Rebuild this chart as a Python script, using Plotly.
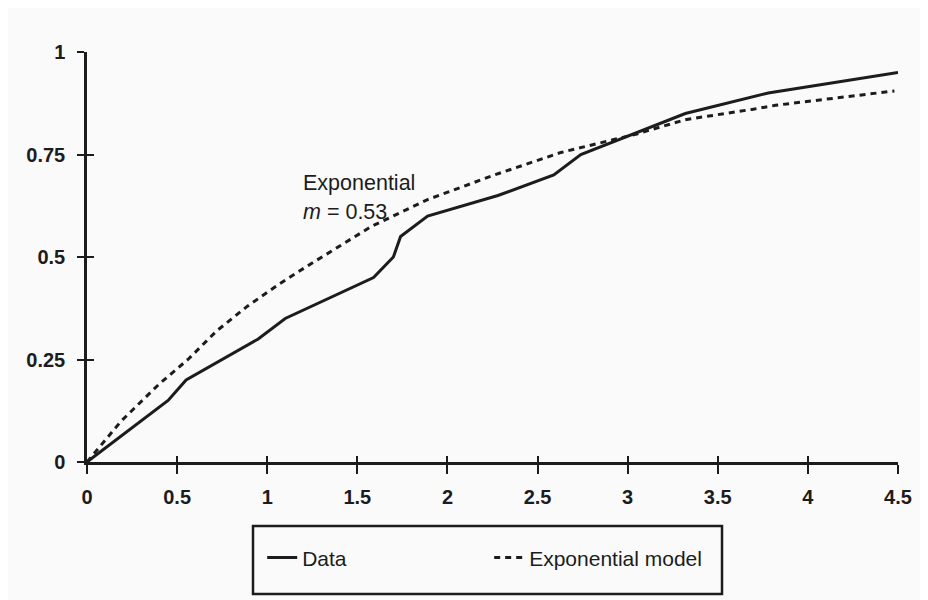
import plotly.graph_objects as go

# Observed data (solid line)
data_x = [0.0, 0.45, 0.55, 0.95, 1.10, 1.59, 1.70, 1.74, 1.89, 2.28, 2.59, 2.74, 3.32, 3.78, 4.50]
data_y = [0.0, 0.15, 0.20, 0.30, 0.35, 0.45, 0.50, 0.55, 0.60, 0.65, 0.70, 0.75, 0.85, 0.90, 0.95]

# Exponential model (dashed line)
model_x = [0.0, 0.19, 0.40, 0.56, 0.72, 0.89, 1.07, 1.23, 1.58, 1.89, 2.26, 2.63, 3.05, 3.32, 3.69, 3.82, 4.48]
model_y = [0.0, 0.10, 0.19, 0.25, 0.32, 0.38, 0.435, 0.48, 0.575, 0.64, 0.70, 0.755, 0.80, 0.835, 0.86, 0.87, 0.905]

x_tickvals = [0, 0.5, 1, 1.5, 2, 2.5, 3, 3.5, 4, 4.5]
x_ticktext = ["0", "0.5", "1", "1.5", "2", "2.5", "3", "3.5", "4", "4.5"]
y_tickvals = [0, 0.25, 0.5, 0.75, 1]
y_ticktext = ["0", "0.25", "0.5", "0.75", "1"]

INK = "#1c1c1c"
FONT = "Liberation Sans, Arial, sans-serif"

fig = go.Figure()
fig.add_trace(go.Scatter(x=data_x, y=data_y, mode="lines", name="Data",
                         line=dict(color=INK, width=3), cliponaxis=False))
fig.add_trace(go.Scatter(x=model_x, y=model_y, mode="lines", name="Exponential model",
                         line=dict(color=INK, width=3, dash="6px,5px"), cliponaxis=False))
# invisible helper trace so the overlay axes (inner tick halves) are drawn
fig.add_trace(go.Scatter(x=data_x, y=data_y, mode="lines", xaxis="x2", yaxis="y2",
                         line=dict(width=0), opacity=0, showlegend=False, hoverinfo="skip"))

fig.add_annotation(x=1.19, y=0.68, xref="x", yref="y", text="Exponential", showarrow=False,
                   xanchor="left", yanchor="middle", font=dict(family=FONT, size=21.5, color=INK))
fig.add_annotation(x=1.19, y=0.61, xref="x", yref="y", text="<i>m</i> = 0.53", showarrow=False,
                   xanchor="left", yanchor="middle", font=dict(family=FONT, size=21.5, color=INK))

# legend frame
fig.add_shape(type="rect", xref="paper", yref="paper", x0=0.2047, x1=0.783, y0=-0.156, y1=-0.322,
              line=dict(color=INK, width=2.5), fillcolor="rgba(0,0,0,0)")

axis_common = dict(showgrid=False, zeroline=False)
tickfont = dict(family=FONT, size=20, color=INK, weight="bold")
fig.update_layout(
    width=920, height=592,
    margin=dict(l=79, r=30, t=44, b=138),
    paper_bgcolor="#fafafa", plot_bgcolor="#fafafa",
    font=dict(family=FONT, size=20, color=INK),
    xaxis=dict(range=[0, 4.5], tickvals=x_tickvals, ticktext=x_ticktext, ticks="outside",
               ticklen=9, tickwidth=2, tickcolor=INK, showline=True, linecolor=INK, linewidth=2.5,
               tickfont=tickfont, ticklabelstandoff=6, anchor="y", **axis_common),
    yaxis=dict(range=[0, 1], tickvals=y_tickvals, ticktext=y_ticktext, ticks="outside",
               ticklen=7, tickwidth=2, tickcolor=INK, showline=True, linecolor=INK, linewidth=2.5,
               tickfont=tickfont, ticklabelstandoff=8, anchor="x", **axis_common),
    xaxis2=dict(range=[0, 4.5], tickvals=x_tickvals, ticks="inside", ticklen=6, tickwidth=2,
                tickcolor=INK, showticklabels=False, showline=False, overlaying="x",
                anchor="y2", side="bottom", **axis_common),
    yaxis2=dict(range=[0, 1], tickvals=y_tickvals, ticks="inside", ticklen=7, tickwidth=2,
                tickcolor=INK, showticklabels=False, showline=False, overlaying="y",
                anchor="x2", side="left", **axis_common),
    showlegend=True,
    legend=dict(orientation="h", x=0.216, xanchor="left", y=-0.234, yanchor="middle",
                bgcolor="rgba(0,0,0,0)", borderwidth=0, itemwidth=30,
                entrywidth=182, entrywidthmode="pixels",
                font=dict(family=FONT, size=21, color=INK)),
)

fig.write_html("out.html")
